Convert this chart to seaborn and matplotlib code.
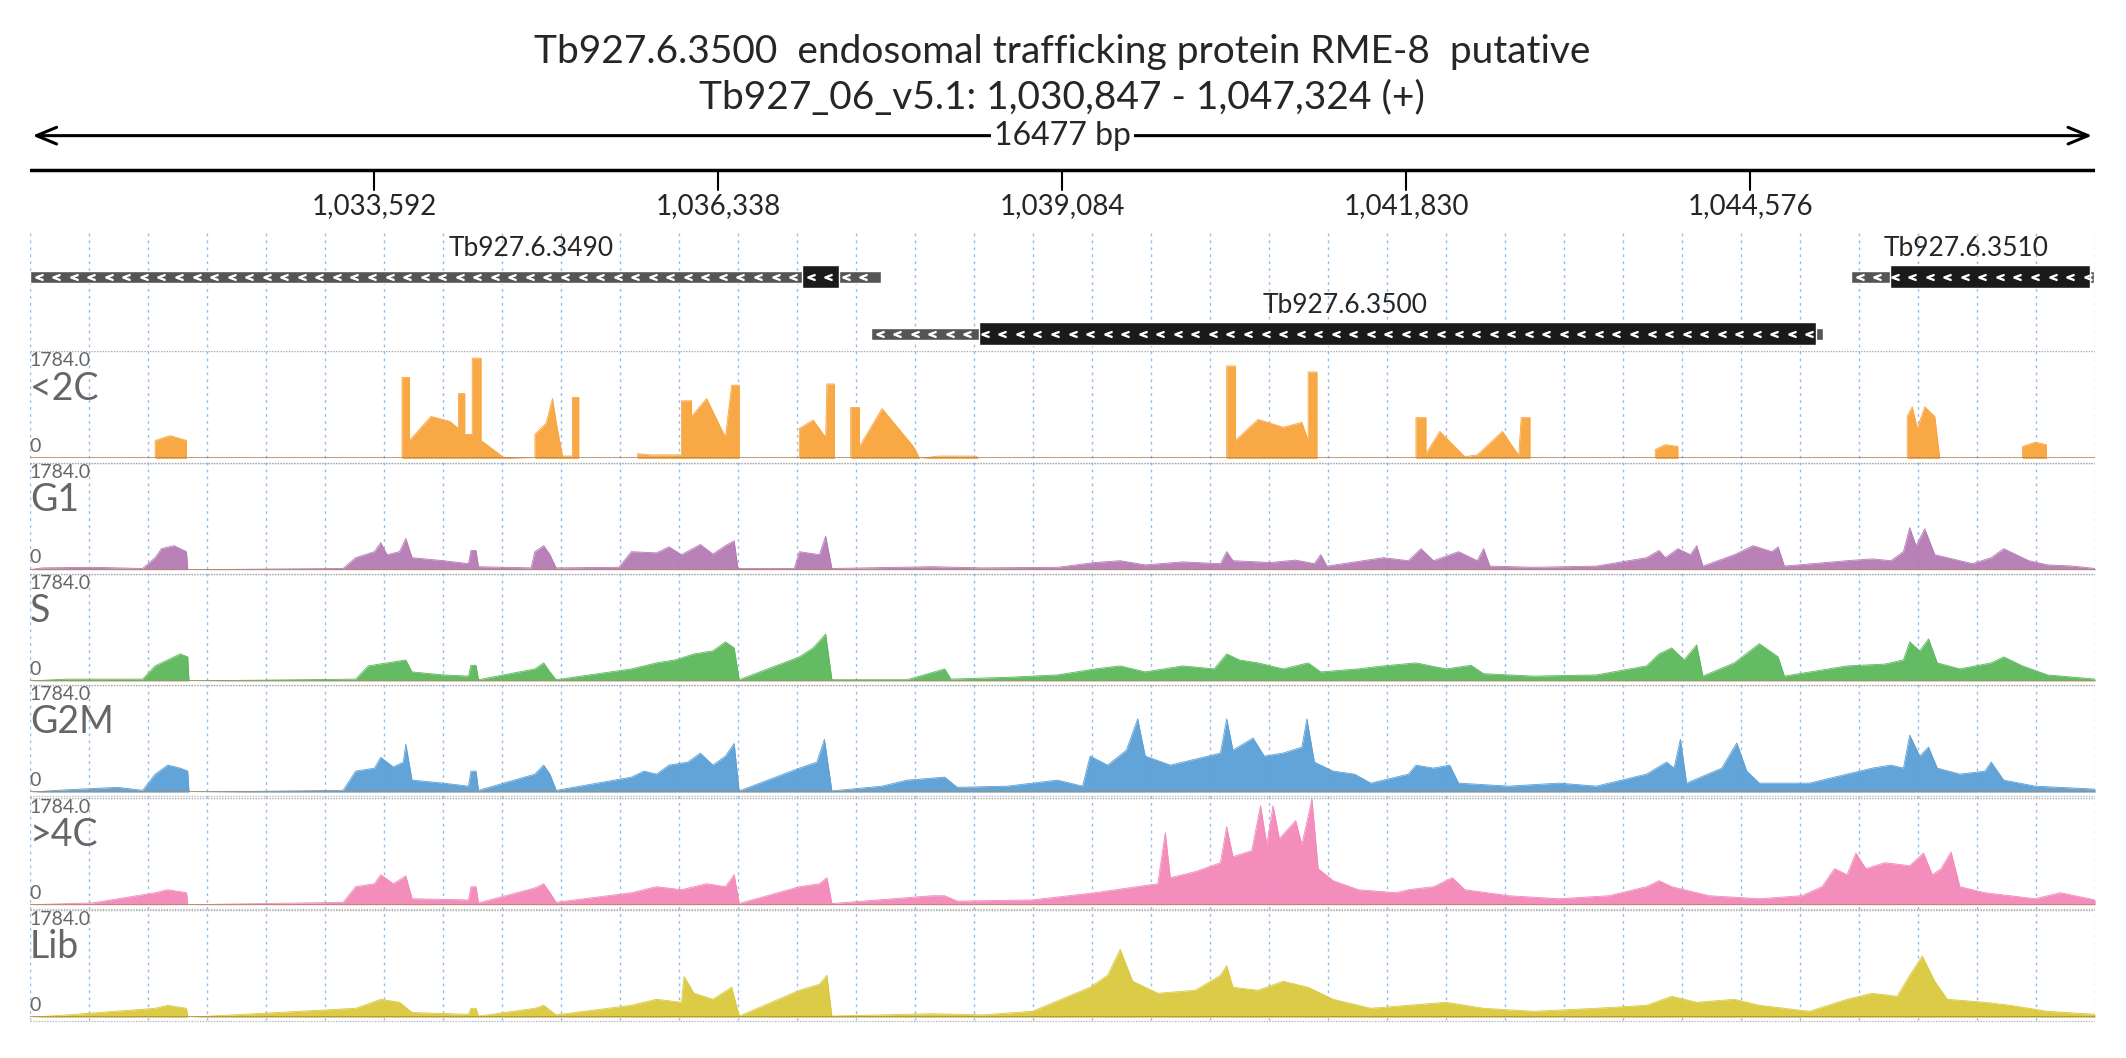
import numpy as np
import matplotlib
matplotlib.use("Agg")
import matplotlib.pyplot as plt
import seaborn as sns

sns.set_theme(style="white")
plt.rcParams['font.family'] = ['Lato', 'DejaVu Sans']

START, END = 1030847, 1047324
tick_pos = [1033592, 1036338, 1039084, 1041830, 1044576]
title1 = "Tb927.6.3500  endosomal trafficking protein RME-8  putative"
title2 = "Tb927_06_v5.1: 1,030,847 - 1,047,324 (+)"
span_label = "16477 bp"

genes = ["Tb927.6.3490", "Tb927.6.3500", "Tb927.6.3510"]
gene_utr = [(1030847, 1037637), (1037557, 1045157), (1045377, 1047317)]
gene_cds = [(1037007, 1037307), (1038417, 1045097), (1045687, 1047287)]
gene_label_x = [1034847, 1041340, 1046300]

track_names = ["<2C", "G1", "S", "G2M", ">4C", "Lib"]
track_colors = ["#f9a43c", "#b47ab4", "#5cb85c", "#5a9fd6", "#f387b9", "#d9c93d"]
track_max = 1784.0

# coverage key points: (kb offset from START, value)
cov_2c = [(0,0),(1.0,0),(1.0,300),(1.12,380),(1.25,300),(1.25,0),(2.97,0),(2.97,1350),(3.03,1350),(3.03,300),
          (3.2,700),(3.35,620),(3.42,500),(3.42,1080),(3.47,1080),(3.47,400),(3.53,400),(3.53,1670),(3.6,1670),
          (3.6,300),(3.78,20),(4.03,0),(4.03,400),(4.12,590),(4.17,1000),(4.2,600),(4.25,40),(4.33,40),(4.33,1016),
          (4.38,1016),(4.38,0),(4.85,0),(4.85,80),(4.95,60),(5.2,60),(5.2,960),(5.28,960),(5.28,700),(5.4,1000),
          (5.55,350),(5.6,1220),(5.66,1220),(5.66,0),(6.14,0),(6.14,500),(6.25,640),(6.35,350),(6.36,1240),
          (6.42,1240),(6.42,0),(6.55,0),(6.55,850),(6.62,850),(6.62,200),(6.8,830),(7.05,200),(7.1,0),(7.25,40),
          (7.55,40),(7.57,0),(9.55,0),(9.55,1540),(9.62,1540),(9.62,300),(9.8,650),(10.0,520),(10.15,600),
          (10.2,300),(10.2,1440),(10.27,1440),(10.27,0),(11.06,0),(11.06,680),(11.14,680),(11.14,80),(11.25,450),
          (11.45,30),(11.55,60),(11.75,450),(11.88,50),(11.9,680),(11.97,680),(11.97,0),(12.97,0),(12.97,150),
          (13.05,230),(13.15,200),(13.15,0),(14.98,0),(14.98,700),(15.02,860),(15.06,500),(15.12,860),(15.2,700),
          (15.24,0),(15.9,0),(15.9,200),(16.0,270),(16.09,230),(16.09,0),(16.48,0)]
cov_g1 = [(0,0),(0.1,30),(0.5,40),(0.9,20),(1.0,200),(1.05,350),(1.15,400),(1.25,300),(1.26,0),(2.5,20),(2.6,200),
          (2.75,300),(2.8,450),(2.85,250),(2.95,300),(3.0,520),(3.05,200),(3.3,150),(3.5,100),(3.52,320),(3.56,320),
          (3.58,50),(4.0,30),(4.03,300),(4.1,400),(4.15,250),(4.2,30),(4.7,40),(4.8,300),(5.0,280),(5.1,380),(5.2,250),
          (5.35,420),(5.45,260),(5.55,400),(5.62,480),(5.65,20),(6.1,20),(6.14,300),(6.3,250),(6.35,560),(6.4,20),
          (7.2,50),(7.6,30),(8.2,40),(8.5,120),(8.7,150),(8.9,80),(9.2,130),(9.5,100),(9.55,300),(9.6,150),(9.9,120),
          (10.1,160),(10.25,100),(10.3,250),(10.35,60),(10.8,200),(11.0,150),(11.1,350),(11.2,150),(11.4,300),
          (11.55,150),(11.6,350),(11.65,60),(12.0,40),(12.5,60),(12.9,200),(13.0,320),(13.05,200),(13.15,350),
          (13.25,250),(13.3,400),(13.35,60),(13.6,250),(13.75,400),(13.9,300),(13.95,380),(14.0,60),(14.5,150),
          (14.7,180),(14.85,150),(14.95,300),(15.0,700),(15.05,400),(15.12,680),(15.2,250),(15.3,200),(15.5,100),
          (15.65,200),(15.75,350),(15.85,250),(15.95,150),(16.1,80),(16.3,60),(16.48,20)]
cov_s = [(0,0),(0.3,30),(0.9,30),(1.0,250),(1.1,350),(1.2,450),(1.26,400),(1.27,0),(2.6,30),(2.7,250),(2.85,300),
         (3.0,350),(3.05,150),(3.3,100),(3.5,80),(3.52,260),(3.56,260),(3.58,20),(4.03,200),(4.1,300),(4.15,150),
         (4.2,20),(4.8,200),(5.0,300),(5.15,350),(5.3,450),(5.45,500),(5.55,650),(5.62,550),(5.66,20),(6.14,400),
         (6.25,550),(6.35,780),(6.4,20),(7.0,20),(7.3,200),(7.35,30),(7.8,60),(8.2,100),(8.5,200),(8.7,250),
         (8.9,150),(9.2,250),(9.45,200),(9.55,450),(9.65,350),(9.8,300),(10.0,200),(10.2,300),(10.3,150),(10.6,200),
         (10.8,250),(11.06,300),(11.3,200),(11.5,260),(11.6,120),(12.0,80),(12.5,100),(12.9,250),(13.0,450),
         (13.1,550),(13.2,350),(13.3,600),(13.35,80),(13.6,300),(13.8,620),(13.95,400),(14.0,80),(14.5,250),
         (14.8,280),(14.95,350),(15.0,650),(15.08,500),(15.15,700),(15.22,300),(15.4,200),(15.65,300),(15.75,400),
         (15.9,250),(16.1,100),(16.48,30)]
cov_g2m = [(0,0),(0.3,40),(0.7,80),(0.9,30),(1.0,300),(1.1,450),(1.2,400),(1.26,350),(1.27,0),(2.5,30),(2.6,350),
           (2.75,400),(2.8,580),(2.9,420),(2.98,500),(3.0,800),(3.05,200),(3.3,150),(3.5,100),(3.52,350),(3.56,350),
           (3.58,30),(4.03,300),(4.1,450),(4.15,300),(4.2,30),(4.8,250),(4.9,350),(5.0,300),(5.1,450),(5.25,500),
           (5.35,650),(5.45,450),(5.55,600),(5.62,810),(5.66,20),(6.14,400),(6.28,500),(6.34,880),(6.4,20),
           (6.8,100),(7.0,200),(7.3,250),(7.4,80),(7.8,100),(8.0,150),(8.2,200),(8.4,100),(8.46,600),(8.6,450),
           (8.75,700),(8.84,1220),(8.9,600),(9.1,450),(9.3,550),(9.5,650),(9.55,1220),(9.6,700),(9.76,900),
           (9.85,600),(10.0,650),(10.15,750),(10.19,1220),(10.25,500),(10.4,350),(10.57,300),(10.7,150),(11.0,300),
           (11.06,450),(11.2,400),(11.33,450),(11.4,150),(11.8,100),(12.2,150),(12.5,100),(12.9,300),(13.06,500),
           (13.12,400),(13.17,880),(13.22,150),(13.5,400),(13.62,820),(13.7,350),(13.8,150),(14.2,150),(14.5,300),
           (14.7,400),(14.85,450),(14.95,400),(15.0,950),(15.08,600),(15.15,750),(15.22,400),(15.4,300),(15.6,350),
           (15.65,500),(15.75,200),(16.0,100),(16.48,50)]
cov_4c = [(0,0),(0.5,30),(1.0,200),(1.1,250),(1.25,200),(1.26,0),(2.5,40),(2.6,300),(2.75,350),(2.8,500),(2.9,350),
          (3.0,480),(3.05,100),(3.5,80),(3.52,300),(3.56,300),(3.58,30),(4.03,280),(4.1,350),(4.15,200),(4.2,40),
          (4.8,200),(5.0,300),(5.2,250),(5.4,350),(5.55,300),(5.62,500),(5.66,20),(6.14,300),(6.3,350),(6.36,450),
          (6.4,20),(7.2,150),(7.3,150),(7.4,60),(8.0,80),(8.5,200),(9.0,350),(9.06,1200),(9.1,450),(9.3,550),
          (9.5,700),(9.55,1300),(9.6,800),(9.75,900),(9.82,1650),(9.87,1000),(9.92,1650),(9.97,1100),(10.1,1400),
          (10.15,1000),(10.23,1760),(10.28,600),(10.4,400),(10.6,250),(10.9,200),(11.0,250),(11.2,300),(11.35,450),
          (11.45,250),(11.8,150),(12.2,100),(12.6,150),(12.9,300),(13.0,400),(13.1,300),(13.2,250),(13.4,150),
          (13.8,100),(14.14,150),(14.3,300),(14.4,600),(14.5,500),(14.57,860),(14.65,600),(14.8,700),(15.0,650),
          (15.11,860),(15.18,500),(15.25,600),(15.33,880),(15.4,300),(15.6,200),(15.8,150),(16.0,100),(16.2,200),
          (16.48,80)]
cov_lib = [(0,0),(0.3,40),(1.0,150),(1.1,200),(1.25,150),(1.26,0),(2.6,150),(2.8,300),(2.95,250),(3.05,80),(3.5,50),
           (3.52,150),(3.56,150),(3.58,20),(4.03,150),(4.1,200),(4.2,40),(4.8,200),(5.0,300),(5.2,250),(5.22,680),
           (5.3,400),(5.45,300),(5.6,500),(5.66,20),(6.14,450),(6.3,550),(6.36,700),(6.4,20),(7.2,60),(7.6,40),
           (8.0,100),(8.46,500),(8.6,700),(8.7,1130),(8.8,600),(9.0,400),(9.3,450),(9.5,700),(9.55,860),(9.6,500),
           (9.8,450),(10.0,600),(10.1,550),(10.2,500),(10.4,300),(10.7,150),(11.0,200),(11.3,250),(11.6,150),
           (12.0,100),(12.5,150),(12.9,200),(13.1,350),(13.3,250),(13.6,300),(13.8,200),(14.2,100),(14.5,300),
           (14.7,400),(14.9,350),(15.0,700),(15.1,1020),(15.2,600),(15.3,300),(15.6,250),(15.8,200),(16.1,100),
           (16.48,50)]
coverage = [cov_2c, cov_g1, cov_s, cov_g2m, cov_4c, cov_lib]

# ---------------- layout (in a 1568 x 780 reference frame) ----------------
W, H = 1568.0, 780.0
L, R = 22.0, 1545.0
baselines = [338, 420, 502, 584, 667, 750]
track_h = 79

fig = plt.figure(figsize=(21.26, 10.58), dpi=100)
ov = fig.add_axes([L / W, 0, (R - L) / W, 1])
ov.set_xlim(START, END)
ov.set_ylim(H, 0)
ov.axis("off")

# grid
for gx in np.linspace(START, END, 36):
    ov.plot([gx, gx], [172, 752], color="#8fbfe8", lw=1.0, ls=(0, (2, 3)), zorder=0)

# titles
mid = (START + END) / 2
ov.text(mid, 38, title1, ha="center", va="center", fontsize=28)
ov.text(mid, 72, title2, ha="center", va="center", fontsize=28)
ov.annotate("", xy=(START, 100), xytext=(END, 100),
            arrowprops=dict(arrowstyle="<->,head_length=1.2,head_width=0.5", lw=2.2, color="black"))
ov.text(mid, 100, span_label, ha="center", va="center", fontsize=23,
        bbox=dict(facecolor="white", edgecolor="none", pad=2))
ov.plot([START, END], [125, 125], color="black", lw=2.5)
for t in tick_pos:
    ov.plot([t, t], [125, 140], color="black", lw=1.5)
    ov.text(t, 152, f"{t:,}", ha="center", va="center", fontsize=20)

# genes
gene_rows = [204, 246, 204]
for name, (u0, u1), (c0, c1), lx, gy in zip(genes, gene_utr, gene_cds, gene_label_x, gene_rows):
    ov.barh(gy, u1 - u0, left=u0, height=9, color="#555555", zorder=3)
    ov.barh(gy, c1 - c0, left=c0, height=17, color="#1a1a1a", zorder=4)
    cx = np.arange(u0 + 70, u1 - 40, 140)
    ov.plot(cx, [gy] * len(cx), ls="none", marker="$<$", color="white", markersize=5, zorder=5)
    ov.text(lx, gy - 21, name, ha="center", va="center", fontsize=19, zorder=6)

# tracks
for name, col, cov, base in zip(track_names, track_colors, coverage, baselines):
    ax = fig.add_axes([L / W, 1 - base / H, (R - L) / W, track_h / H])
    ax.patch.set_alpha(0)
    xs = np.array([START + p[0] * 1000 for p in cov])
    ys = np.array([p[1] for p in cov])
    ax.fill_between(xs, 0, ys, color=col, alpha=0.95, lw=0, zorder=2)
    sns.lineplot(x=xs, y=ys, ax=ax, color=col, lw=0.6, sort=False, estimator=None, errorbar=None, zorder=3)
    ax.set_xlim(START, END)
    ax.set_ylim(0, track_max)
    ax.axhline(0, color="#b08a60", lw=1.2, zorder=4)
    ax.axhline(track_max, color="#aaaaaa", lw=1.0, ls=(0, (1, 1)), zorder=1)
    ax.axis("off")
    ax.text(START, track_max * 0.99, f"{track_max:.1f}", ha="left", va="top", fontsize=14, color="#666666")
    ax.text(START, track_max * 0.82, name, ha="left", va="top", fontsize=27, color="#666666")
    ax.text(START, track_max * 0.03, "0", ha="left", va="bottom", fontsize=14, color="#666666")
    ov.plot([START, END], [base + 3, base + 3], color="#bbbbbb", lw=1.0, ls=(0, (1, 1)))

fig.savefig("out.png", dpi=100)
